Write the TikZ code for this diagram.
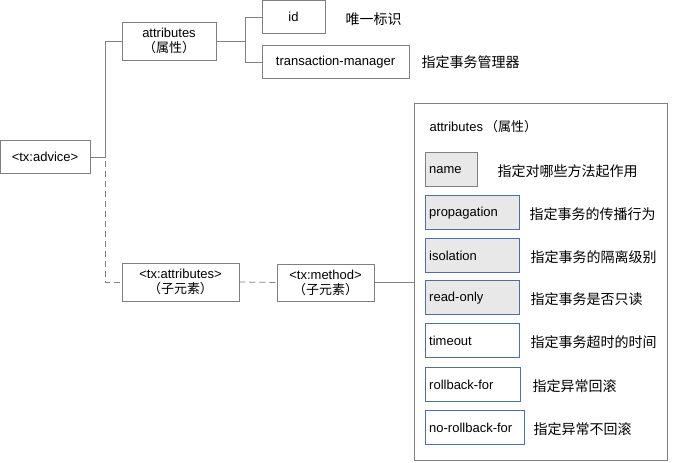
\documentclass[tikz,border=0pt]{standalone}
\usepackage{fontspec}
\setmainfont{Liberation Sans}
\newfontfamily\cjk{Noto Sans CJK SC}
\definecolor{bb}{RGB}{80,110,160}
\begin{document}
\begin{tikzpicture}[x=1pt,y=-1pt,font=\fontsize{13}{15}\selectfont,
  gline/.style={draw=black!50,line width=0.8pt},
  box/.style={draw=black!50,line width=0.8pt,fill=white,align=center,inner sep=0pt},
  abox/.style={draw=bb,line width=0.9pt,inner sep=0pt,anchor=north west,text depth=0pt},
  gfill/.style={fill=black!9},
  desc/.style={anchor=west,font=\cjk\fontsize{14}{16}\selectfont}]
\useasboundingbox (0,0) rectangle (678,463);
\node[box,minimum width=90,minimum height=33] (adv) at (45,157) {<tx:advice>};
\node[box,minimum width=94,minimum height=38] (attr) at (169,41) {attributes\\{\cjk\fontsize{13}{14}\selectfont（属性）}};
\node[box,minimum width=63,minimum height=33] (id) at (293.5,17) {id};
\node[box,minimum width=147,minimum height=33] (tm) at (335.5,62) {transaction-manager};
\node[desc] (idd) at (342,19) {唯一标识};
\node[desc] (tmd) at (418,62) {指定事务管理器};
\node[box,minimum width=117,minimum height=38] (txa) at (180.5,282) {<tx:attributes>\\{\cjk\fontsize{13}{14}\selectfont（子元素）}};
\node[box,minimum width=97,minimum height=37] (txm) at (325.5,282.5) {<tx:method>\\{\cjk\fontsize{13}{14}\selectfont（子元素）}};
\node[draw=black!50,line width=0.8pt,minimum width=253,minimum height=357,inner sep=0pt] (big) at (540.5,281.5) {};
\node[anchor=west] (bt) at (426,127) {attributes\,{\cjk\fontsize{13}{14}\selectfont（属性）}};
\coordinate (j1) at (105,157);
\coordinate (j2) at (245,41);
\draw[gline] (adv.east) -- (j1) |- (attr.west);
\draw[gline] (attr.east) -- (j2) |- (id.west);
\draw[gline] (j2) |- (tm.west);
\draw[gline,dashed,dash pattern=on 6pt off 4pt] (105,161) |- (txa.west);
\draw[gline,dashed,dash pattern=on 6pt off 4pt] (txa.east) -- (txm.west);
\draw[gline] (txm.east) -- (txm.east -| big.west);
\foreach \n/\t/\y/\w/\f/\d/\dx in {
 nm/name/152/52/1/指定对哪些方法起作用/494,
 pr/propagation/195/94/1/指定事务的传播行为/526,
 is/isolation/238/94/1/指定事务的隔离级别/527,
 ro/read-only/280/94/1/指定事务是否只读/527,
 to/timeout/323/94/0/指定事务超时的时间/527,
 rb/rollback-for/367/95/0/指定异常回滚/529,
 nr/no-rollback-for/410/99/0/指定异常不回滚/530}{
  \ifnum\f=1
   \node[abox,gfill,minimum width=\w,minimum height=34] (\n) at (425,\y) {};
  \else
   \node[abox,fill=white,minimum width=\w,minimum height=34] (\n) at (425,\y) {};
  \fi
  \node[anchor=west,inner sep=1pt] (\n t) at (428,\y+18) {\t};
  \node[desc] (\n d) at (\dx,\y+19) {\d};
}
\draw[black!50,line width=0.9pt] (nm.north west) rectangle (nm.south east);
\end{tikzpicture}
\end{document}
